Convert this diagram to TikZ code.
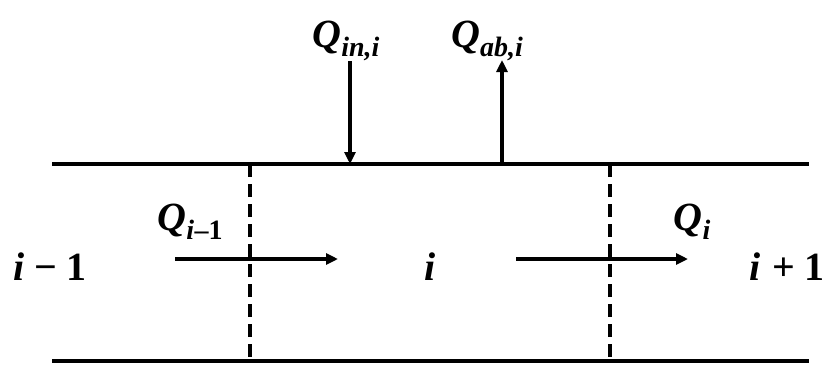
\documentclass[tikz,border=0pt]{standalone}
\usepackage{fontspec}
\setmainfont{LiberationSerif}[Extension=.ttf, UprightFont=*-Regular, BoldFont=*-Bold, ItalicFont=*-Italic, BoldItalicFont=*-BoldItalic]
\usetikzlibrary{arrows.meta}
\newcommand{\bi}[1]{\textbf{\textit{#1}}}
\newcommand{\lbl}[2]{\bi{#1}\raisebox{-0.22em}{\fontsize{28}{28}\selectfont\bfseries #2}}
\tikzset{
  wall/.style={line width=4pt},
  cut/.style={line width=4.5pt, dash pattern=on 13pt off 7pt},
  flow/.style={line width=3.5pt, -{Triangle[length=12pt,width=11pt]}},
  lab/.style={inner sep=0pt, font=\fontsize{40}{40}\selectfont},
}
\begin{document}
\begin{tikzpicture}[x=1pt,y=-1pt]
\useasboundingbox (0,0) rectangle (829,365);
\coordinate (tl) at (52,164); \coordinate (tr) at (809,164);
\coordinate (bl) at (52,361); \coordinate (br) at (809,361);
\draw[wall] (tl) -- (tr);
\draw[wall] (bl) -- (br);
\coordinate (d1t) at (250,164); \coordinate (d1b) at (250,361);
\coordinate (d2t) at (610,164); \coordinate (d2b) at (610,361);
\draw[cut] (d1t) -- (d1b);
\draw[cut] (d2t) -- (d2b);
% vertical flows
\coordinate (inTop) at (350,61); \coordinate (inBot) at (350,164);
\coordinate (abBot) at (502,164); \coordinate (abTop) at (502,60);
\draw[flow] (inTop) -- (inBot);
\draw[flow] (abBot) -- (abTop);
\node[lab] (qin) at (346,41) {\lbl{Q}{\textit{in,i}}};
\node[lab] (qab) at (487,41) {\lbl{Q}{\textit{ab,i}}};
% horizontal flows
\coordinate (h1s) at (175,259); \coordinate (h1e) at (338,259);
\coordinate (h2s) at (516,259); \coordinate (h2e) at (688,259);
\draw[flow] (h1s) -- (h1e);
\draw[flow] (h2s) -- (h2e);
\node[lab] (qim) at (190,222) {\lbl{Q}{\textit{i}\kern0.5pt\textendash1}};
\node[lab] (qi) at (692,222) {\lbl{Q}{\textit{i}}};
% cell labels
\node[lab] (cm) at (50,267) {\bi{i}\hspace{10pt}\textbf{\textminus\hspace{9pt}1}};
\node[lab] (cc) at (430,267) {\bi{i}};
\node[lab] (cp) at (787,267) {\bi{i}\hspace{12pt}\textbf{+\hspace{10pt}1}};
\end{tikzpicture}
\end{document}
